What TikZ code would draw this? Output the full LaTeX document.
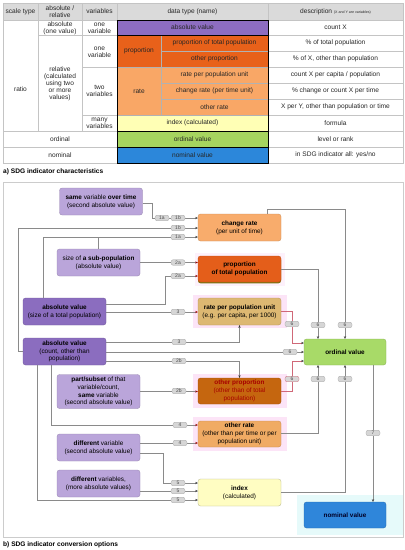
\documentclass[tikz,border=0pt]{standalone}
\usepackage{fontspec}
\setmainfont{Liberation Sans}
\usetikzlibrary{arrows.meta,shadows}
\definecolor{hdr}{HTML}{DADADA}
\definecolor{tabl}{HTML}{C4C4C4}
\definecolor{tpurple}{HTML}{8D6DC1}
\definecolor{tdorange}{HTML}{E8611A}
\definecolor{tlorange}{HTML}{F9A766}
\definecolor{tyellow}{HTML}{FFFFB5}
\definecolor{tgreen}{HTML}{A6D45F}
\definecolor{tblue}{HTML}{2C87DA}
\definecolor{lpurple}{HTML}{BAA5DA}
\definecolor{dpurple}{HTML}{8B6DBF}
\definecolor{dorange}{HTML}{E45E1A}
\definecolor{lorange}{HTML}{F8AC6C}
\definecolor{tanc}{HTML}{DDB872}
\definecolor{opbrown}{HTML}{C5660F}
\definecolor{orrate}{HTML}{F0AB64}
\definecolor{pyellow}{HTML}{FFFDC2}
\definecolor{lgreen}{HTML}{A8DA68}
\definecolor{nblue}{HTML}{2F86DA}
\definecolor{glowpink}{HTML}{FCE4F7}
\definecolor{glowcyan}{HTML}{E6FAFA}
\definecolor{linegray}{HTML}{8A8A8A}
\definecolor{linered}{HTML}{D06878}
\definecolor{labfill}{HTML}{D6D6D6}
\definecolor{labdraw}{HTML}{A6A6A6}
\begin{document}
\begin{tikzpicture}[x=1pt,y=-1pt,
  tabtxt/.style={font=\fontsize{6.6}{6.9}\selectfont, align=center, text=black!85, inner sep=0pt},
  box/.style={rounded corners=2.5pt, minimum width=83pt, minimum height=27pt, inner sep=0.5pt, align=center, font=\fontsize{6.4}{7.8}\selectfont, line width=0.3pt},
  lab/.style={fill=labfill, draw=labdraw, line width=0.3pt, rounded corners=2.2pt, minimum width=14pt, minimum height=5.6pt, inner sep=0pt, font=\fontsize{5}{5}\selectfont, text=black!70},
  conn/.style={draw=linegray, line width=0.55pt, -{Stealth[length=2.6pt,width=2.2pt,color=black!80]}},
  connr/.style={draw=linered, line width=0.55pt, -{Stealth[length=2.6pt,width=2.2pt,color=black!80]}},
  connp/.style={draw=linegray, line width=0.55pt, -{Stealth[length=2.6pt,width=2.2pt,color=red!60!black]}},
  plain/.style={draw=linegray, line width=0.55pt},
  captxt/.style={anchor=west, inner sep=0pt, font=\bfseries\fontsize{6.6}{8}\selectfont}]
\useasboundingbox (0,0) rectangle (405,550);
% ---------------- table ----------------
\fill[hdr] (3,3) rectangle (403,20);
\fill[tpurple] (117,20) rectangle (268,35);
\fill[tdorange] (117,35) rectangle (268,67);
\fill[tlorange] (117,67) rectangle (268,115);
\fill[tyellow] (117,115) rectangle (268,131);
\fill[tgreen] (117,131) rectangle (268,147);
\fill[tblue] (117,147) rectangle (268,163);
\begin{scope}[draw=tabl, line width=0.5pt]
\draw (3,3) rectangle (403,163);
\draw (3,20) -- (403,20);
\draw (38,3) -- (38,131);
\draw (82,3) -- (82,131);
\draw (117,3) -- (117,163);
\draw (268,3) -- (268,163);
\draw (38,35) -- (117,35);
\draw (82,67) -- (117,67);
\draw (82,115) -- (117,115);
\draw (3,131) -- (117,131);
\draw (3,147) -- (117,147);
\foreach \yy in {35,51,67,83,99,115,131,147} \draw (268,\yy) -- (403,\yy);
\end{scope}
\begin{scope}[draw=black!30, line width=0.4pt]
\draw (161,35) -- (161,115);
\draw (161,51) -- (268,51);
\draw (161,83) -- (268,83);
\draw (161,99) -- (268,99);
\draw (117,67) -- (268,67);
\draw (117,115) -- (268,115);
\end{scope}
\draw[black, line width=0.9pt] (117,20) rectangle (268,163);
\draw[black, line width=0.9pt] (117,35) -- (268,35);
\draw[black, line width=0.9pt] (117,131) -- (268,131);
\draw[black, line width=0.9pt] (117,147) -- (268,147);
% header
\node[tabtxt] (h1) at (20.5,11.5) {scale type};
\node[tabtxt] (h2) at (60,11.5) {absolute /\\relative};
\node[tabtxt] (h3) at (99.5,11.5) {variables};
\node[tabtxt] (h4) at (192.5,11.5) {data type (name)};
\node[tabtxt] (h5) at (335.5,11.5) {description {\fontsize{3.6}{4}\selectfont (X and Y are variables)}};
% left columns
\node[tabtxt] (c1) at (20.5,89) {ratio};
\node[tabtxt] (c2) at (60,28) {absolute\\(one value)};
\node[tabtxt] (c3) at (60,84) {relative\\(calculated\\using two\\or more\\values)};
\node[tabtxt] (c4) at (99.5,28) {one\\variable};
\node[tabtxt] (c5) at (99.5,52.5) {one\\variable};
\node[tabtxt] (c6) at (99.5,91) {two\\variables};
\node[tabtxt] (c7) at (99.5,123) {many\\variables};
\node[tabtxt] (c8) at (60,139) {ordinal};
\node[tabtxt] (c9) at (60,155) {nominal};
% data types
\node[tabtxt] (d1) at (192.5,27.5) {absolute value};
\node[tabtxt] (d2) at (139,51) {proportion};
\node[tabtxt] (d3) at (139,91) {rate};
\node[tabtxt] (d4) at (214.5,43) {proportion of total population};
\node[tabtxt] (d5) at (214.5,59) {other proportion};
\node[tabtxt] (d6) at (214.5,75) {rate per population unit};
\node[tabtxt] (d7) at (214.5,91) {change rate (per time unit)};
\node[tabtxt] (d8) at (214.5,107) {other rate};
\node[tabtxt] (d9) at (192.5,123) {index (calculated)};
\node[tabtxt] (d10) at (192.5,139) {ordinal value};
\node[tabtxt] (d11) at (192.5,155) {nominal value};
% descriptions
\node[tabtxt] (e1) at (335.5,27.5) {count X};
\node[tabtxt] (e2) at (335.5,43) {\% of total population};
\node[tabtxt] (e3) at (335.5,59) {\% of X, other than population};
\node[tabtxt] (e4) at (335.5,75) {count X per capita / population};
\node[tabtxt] (e5) at (335.5,91) {\% change or count X per time};
\node[tabtxt] (e6) at (335.5,107) {X per Y, other than population or time};
\node[tabtxt] (e7) at (335.5,123) {formula};
\node[tabtxt] (e8) at (335.5,139) {level or rank};
\node[tabtxt] (e9) at (335.5,155) {in SDG indicator all: yes/no};
\node[captxt] (capa) at (3,172) {a) SDG indicator characteristics};
% ---------------- diagram ----------------
\draw[gray!40, line width=0.6pt] (3,182) rectangle (403,537);
\fill[glowpink!50] (195,253) rectangle (285,286);
\fill[glowpink] (193,295) rectangle (287,328);
\fill[glowpink] (193,374) rectangle (287,408);
\fill[glowpink] (193,417) rectangle (287,451);
\fill[glowcyan] (297,495) rectangle (403,535);
% left nodes
\node[box, fill=lpurple, draw=lpurple!80!black] (sv) at (101,201.5) {{\bfseries same} variable {\bfseries over time}\\(second absolute value)};
\node[box, fill=lpurple, draw=lpurple!80!black] (sp) at (98.5,262.5) {size of {\bfseries a sub-population}\\(absolute value)};
\node[box, fill=dpurple, draw=dpurple!80!black] (avt) at (64.5,311.5) {{\bfseries absolute value}\\(size of a total population)};
\node[box, fill=dpurple, draw=dpurple!80!black] (avc) at (64.5,351.5) {{\bfseries absolute value}\\(count, other than\\population)};
\node[box, fill=lpurple, draw=lpurple!80!black, minimum height=34pt] (ps) at (98.5,391.5) {{\bfseries part/subset} of that\\variable/count,\\{\bfseries same} variable\\(second absolute value)};
\node[box, fill=lpurple, draw=lpurple!80!black] (dv) at (98.5,447.5) {{\bfseries different} variable\\(second absolute value)};
\node[box, fill=lpurple, draw=lpurple!80!black] (dvs) at (98.5,483.5) {{\bfseries different} variables,\\(more absolute values)};
% middle nodes
\node[box, fill=lorange, draw=lorange!80!black] (cr) at (239.5,227.5) {{\bfseries change rate}\\(per unit of time)};
\node[box, fill=dorange, draw=dorange!80!black, minimum height=26pt, drop shadow={shadow xshift=0pt, shadow yshift=-1.3pt, fill=olive!85!black, opacity=1}] (pt) at (239.5,269) {{\bfseries proportion}\\{\bfseries of total population}};
\node[box, fill=tanc, draw=tanc!80!black] (rp) at (239.5,311.5) {{\bfseries rate per population unit}\\(e.g. per capita, per 1000)};
\node[box, fill=opbrown, draw=opbrown!80!black, minimum height=26pt, text=red!65!black] (op) at (239.5,391) {{\bfseries other proportion}\\(other than of total\\population)};
\node[box, fill=orrate, draw=orrate!80!black, minimum height=26pt] (ort) at (239.5,434) {{\bfseries other rate}\\(other than per time or per\\population unit)};
\node[box, fill=pyellow, draw=pyellow!70!black] (ix) at (239.5,492.5) {{\bfseries index}\\(calculated)};
% right nodes
\node[box, fill=lgreen, draw=lgreen!80!black, minimum width=82pt, minimum height=26pt] (ov) at (345,352) {{\bfseries ordinal value}};
\node[box, fill=nblue, draw=nblue!80!black, minimum width=82pt, minimum height=26pt, text=black!85!blue] (nv) at (345,515) {{\bfseries nominal value}};
% connectors left -> middle
\draw[conn] (sv.east |- 0,203) -- (152,203) |- (cr.west |- 0,218);
\draw[conn] (avc.west) -- (18,351.5) |- (cr.west |- 0,228);
\draw[conn] (43,0 |- avt.north) -- (43,237) -- (cr.west |- 0,237);
\draw[plain] (sp.north) -- (sp.north |- 0,237);
\draw[connp] (sp.east) -- (pt.west |- sp.east);
\draw[connp] (avt.east |- 0,304) -| (165,276) -- (pt.west |- 0,276);
\draw[connp] (avt.east |- 0,312) -- (rp.west |- 0,312);
\draw[conn] (avc.east |- 0,342) -| (rp.south);
\draw[conn] (avc.east |- 0,352) -- (ov.west |- 0,352);
\draw[conn] (avc.east |- 0,361) -| (op.north);
\draw[connp] (ps.east) -- (op.west |- ps.east);
\draw[connp] (51,0 |- avc.south) |- (ort.west |- 0,425);
\draw[connp] (dv.east |- 0,443) -- (ort.west |- 0,443);
\draw[conn] (dv.east |- 0,453) -| (163,483) -- (ix.west |- 0,483);
\draw[conn] (dvs.east |- 0,491) -- (ix.west |- 0,491);
\draw[conn] (37,0 |- avc.south) |- (ix.west |- 0,500);
% connectors middle -> right
\draw[conn] (267,0 |- cr.north) -- (267,209) -| (ov.north);
\draw[conn] (pt.east) -| (318,0 |- ov.north);
\draw[connr] (rp.east) -- (292,311.5) |- (ov.west |- 0,343);
\draw[connr] (op.east) -- (292,391) |- (ov.west |- 0,361);
\draw[conn] (ort.east |- 0,433) -| (318,0 |- ov.south);
\draw[conn] (ix.east) -| (ov.south);
\draw[conn] (373,0 |- ov.south) -- (373,0 |- nv.north);
% labels
\node[lab] (l1) at (162,218) {1a};
\node[lab] (l2) at (178,218) {1b};
\node[lab] (l3) at (178,228) {1b};
\node[lab] (l4) at (178,237) {1a};
\node[lab] (l5) at (178,262.5) {2a};
\node[lab] (l6) at (178,276) {2a};
\node[lab] (l7) at (178,312) {3};
\node[lab] (l8) at (179,342) {3};
\node[lab] (l9) at (290,352) {6};
\node[lab] (l10) at (179,361) {2b};
\node[lab] (l11) at (179,391) {2b};
\node[lab] (l12) at (180,425) {4};
\node[lab] (l13) at (180,443) {4};
\node[lab] (l14) at (178,483) {5};
\node[lab] (l15) at (178,491) {5};
\node[lab] (l16) at (178,500) {5};
\node[lab] (l17) at (318,325) {6};
\node[lab] (l18) at (345,325) {6};
\node[lab] (l19) at (292,324) {6};
\node[lab, draw=linered] (l20) at (292,379) {6};
\node[lab] (l21) at (318,379) {6};
\node[lab] (l22) at (345,379) {6};
\node[lab] (l23) at (373,433) {7};
\node[captxt] (capb) at (3,545) {b) SDG indicator conversion options};
\end{tikzpicture}
\end{document}
